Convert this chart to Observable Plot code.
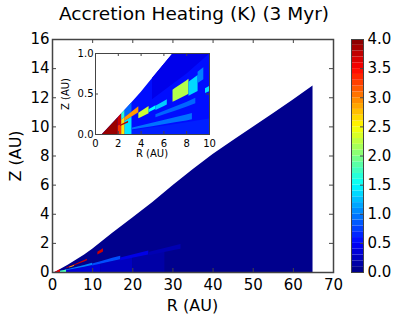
<!DOCTYPE html>
<html>
<head>
<meta charset="utf-8">
<script src="https://cdn.jsdelivr.net/npm/d3@7"></script>
<script src="https://cdn.jsdelivr.net/npm/@observablehq/plot@0.6"></script>
<style>
  html, body { margin: 0; padding: 0; background: white; }
  #wrap { position: relative; width: 399px; height: 323px; overflow: hidden; font-family: "DejaVu Sans", sans-serif; color: black; }
  #wrap > * { position: absolute; }
  .lbl { white-space: nowrap; text-align: center; }
</style>
</head>
<body>
<div id="wrap"></div>
<script>
// ---------------- data ----------------
const titleText = "Accretion Heating (K) (3 Myr)";
const xLabel = "R (AU)";
const yLabel = "Z (AU)";

// disk surface height Z(R) (AU)
const surfR = [0.6, 1, 2, 3, 4, 5, 6, 7, 8, 10, 12.5, 15, 20, 25, 30, 35, 40, 45, 50, 55, 60, 64.9];
const surfZ = [0, 0.06, 0.21, 0.36, 0.52, 0.69, 0.86, 1.03, 1.2, 1.6, 2.15, 2.7, 3.75, 4.8, 5.95, 7.05, 8.1, 9.05, 9.98, 10.9, 11.85, 12.8];

// main panel cells: [R from, R to, fraction of surface height from, to, heating value]
const mainCells = [
  [0.6, 64.9, 0, 1, 0.05],
  [0.6, 12, 0, 0.3, 0.35],
  [12, 20, 0, 0.28, 0.25],
  [20, 28, 0, 0.26, 0.15],
  [1.5, 10, 0.3, 0.4, 1.0],
  [10, 17, 0.28, 0.36, 0.8],
  [17, 24, 0.26, 0.32, 0.4],
  [24, 32, 0.25, 0.3, 0.2],
  [0.6, 2, 0, 1, 3.6],
  [2, 3.5, 0, 0.4, 1.8],
  [3.5, 8.7, 0.6, 0.68, 3.7],
  [4.3, 5.5, 0.55, 0.62, 2.7],
  [11.3, 12.7, 0.64, 0.74, 3.7]
];

// inset cells (zoom on R 0-10, Z 0-1)
const insetCells = [
  [0.6, 10, 0, 1, 0.55],
  [5, 10, 0.62, 1, 0.42],
  [3.2, 10, 0, 0.12, 0.62],
  [0.6, 2.0, 0, 1, 3.9],
  [2.0, 2.3, 0, 0.5, 3.3],
  [2.0, 2.3, 0.5, 1, 3.7],
  [2.3, 2.6, 0, 0.7, 2.6],
  [2.3, 2.6, 0.7, 1, 1.7],
  [2.6, 3.2, 0, 0.55, 1.4],
  [2.6, 3.2, 0.7, 1, 0.9],
  [2.6, 3.8, 0.55, 0.7, 2.9],
  [2.2, 2.9, 0.41, 0.47, 3.8],
  [3.8, 4.7, 0.4, 0.54, 2.3],
  [3.2, 8.5, 0.14, 0.2, 0.95],
  [4.7, 5.3, 0.42, 0.48, 1.5],
  [5.3, 6.3, 0.4, 0.47, 1.3],
  [5.3, 8.8, 0.28, 0.33, 0.9],
  [6.8, 8.2, 0.4, 0.55, 2.2],
  [8.2, 9.0, 0.38, 0.52, 1.35],
  [9.0, 9.5, 0.45, 0.55, 1.0],
  [9.65, 10, 0.33, 0.37, 1.4]
];

const xTicks = [0, 10, 20, 30, 40, 50, 60, 70];
const yTicks = [0, 2, 4, 6, 8, 10, 12, 14, 16];
const insetXTicks = [0, 2, 4, 6, 8, 10];
const insetYTicks = [0, 0.5, 1.0];
const cbarTicks = [0, 0.5, 1.0, 1.5, 2.0, 2.5, 3.0, 3.5, 4.0];
const cbarLevels = d3.range(0, 4, 0.1);

// jet colour map as a Plot colour scale
const colorOpts = {
  type: "linear",
  domain: [0, 0.5, 1.5, 2.5, 3.5, 4],
  range: ["#000080", "#0000ff", "#00ffff", "#ffff00", "#ff0000", "#800000"],
  interpolate: "rgb"
};

// ---------------- geometry ----------------
const zs = r => {
  if (r <= surfR[0]) return surfZ[0];
  for (let i = 1; i < surfR.length; i++) {
    if (r <= surfR[i]) {
      const t = (r - surfR[i - 1]) / (surfR[i] - surfR[i - 1]);
      return surfZ[i - 1] + t * (surfZ[i] - surfZ[i - 1]);
    }
  }
  return surfZ[surfZ.length - 1];
};
function cellPoints(cells) {
  const pts = [];
  cells.forEach(([r0, r1, f0, f1, v], i) => {
    const xs = [r0, ...surfR.filter(r => r > r0 && r < r1), r1];
    for (const x of xs) pts.push({id: i, x, y1: f0 * zs(x), y2: f1 * zs(x), v});
  });
  return pts;
}

const wrap = document.getElementById("wrap");
const axisColor = "#444";

// ---------------- main panel ----------------
const M = {l: 52, r: 66, t: 39, b: 51};
const mW = 399 - M.l - M.r, mH = 323 - M.t - M.b;
const main = Plot.plot({
  width: 399, height: 323,
  marginLeft: M.l, marginRight: M.r, marginTop: M.t, marginBottom: M.b,
  x: {domain: [0, 70]},
  y: {domain: [0, 16]},
  color: colorOpts,
  style: {fontFamily: "DejaVu Sans", fontSize: "15px", background: "transparent", color: "black"},
  marks: [
    Plot.areaY(cellPoints(mainCells), {x: "x", y1: "y1", y2: "y2", z: "id", fill: "v", clip: true}),
    Plot.frame({stroke: axisColor, strokeWidth: 1.5}),
    Plot.tickX(xTicks, {x: d => d, insetTop: mH - 4, stroke: axisColor}),
    Plot.tickX(xTicks, {x: d => d, insetBottom: mH - 4, stroke: axisColor}),
    Plot.tickY(yTicks, {y: d => d, insetRight: mW - 4, stroke: axisColor}),
    Plot.tickY(yTicks, {y: d => d, insetLeft: mW - 4, stroke: axisColor}),
    Plot.axisX({ticks: xTicks, tickSize: 0, tickPadding: 7, label: null, fontSize: 15}),
    Plot.axisY({ticks: yTicks, tickSize: 0, tickPadding: 3, label: null, fontSize: 15})
  ]
});
main.style.left = "0px"; main.style.top = "0px";
wrap.appendChild(main);

// ---------------- inset ----------------
const I = {left: 50, top: 43, w: 175, h: 120, l: 45, r: 16, t: 10, b: 29};
const iW = I.w - I.l - I.r, iH = I.h - I.t - I.b;
const inset = Plot.plot({
  width: I.w, height: I.h,
  marginLeft: I.l, marginRight: I.r, marginTop: I.t, marginBottom: I.b,
  x: {domain: [0, 10]},
  y: {domain: [0, 1]},
  color: colorOpts,
  style: {fontFamily: "DejaVu Sans", fontSize: "10px", background: "transparent", color: "black"},
  marks: [
    Plot.frame({fill: "white"}),
    Plot.areaY(cellPoints(insetCells), {x: "x", y1: "y1", y2: "y2", z: "id", fill: "v", clip: true}),
    Plot.frame({stroke: axisColor, strokeWidth: 1}),
    Plot.tickX(insetXTicks, {x: d => d, insetTop: iH - 3, stroke: axisColor}),
    Plot.tickX(insetXTicks, {x: d => d, insetBottom: iH - 3, stroke: axisColor}),
    Plot.tickY(insetYTicks, {y: d => d, insetRight: iW - 3, stroke: axisColor}),
    Plot.tickY(insetYTicks, {y: d => d, insetLeft: iW - 3, stroke: axisColor}),
    Plot.axisX({ticks: insetXTicks, tickSize: 0, tickPadding: 5, label: null, fontSize: 10}),
    Plot.axisY({ticks: insetYTicks, tickSize: 0, tickPadding: 2, tickFormat: d3.format(".1f"), label: null, fontSize: 10})
  ]
});
inset.style.left = I.left + "px"; inset.style.top = I.top + "px";
wrap.appendChild(inset);

// ---------------- colour bar ----------------
const C = {left: 340, w: 59, h: 323, l: 11, r: 36, t: 39, b: 51};
const cH = C.h - C.t - C.b, cW = C.w - C.l - C.r;
const cbar = Plot.plot({
  width: C.w, height: C.h,
  marginLeft: C.l, marginRight: C.r, marginTop: C.t, marginBottom: C.b,
  x: {domain: [0, 1], axis: null},
  y: {domain: [0, 4]},
  color: colorOpts,
  style: {fontFamily: "DejaVu Sans", fontSize: "15px", background: "transparent", color: "black"},
  marks: [
    Plot.rect(cbarLevels, {x1: 0, x2: 1, y1: d => d, y2: d => d + 0.1, fill: d => d + 0.05}),
    Plot.frame({stroke: axisColor, strokeWidth: 1}),
    Plot.tickY(cbarTicks, {y: d => d, insetLeft: cW - 3, stroke: axisColor}),
    Plot.axisY({anchor: "right", ticks: cbarTicks, tickSize: 0, tickPadding: 4, tickFormat: d3.format(".1f"), label: null, fontSize: 15})
  ]
});
cbar.style.left = C.left + "px"; cbar.style.top = "0px";
wrap.appendChild(cbar);

// ---------------- text ----------------
function addLabel(text, fs, cx, baseline, rotate) {
  const d = document.createElement("div");
  d.className = "lbl";
  d.textContent = text;
  d.style.fontSize = fs + "px";
  d.style.lineHeight = fs + "px";
  d.style.height = fs + "px";
  d.style.width = "300px";
  if (!rotate) {
    d.style.left = (cx - 150) + "px";
    d.style.top = (baseline - 0.846 * fs) + "px";
  } else {
    d.style.left = (cx - 150) + "px";
    d.style.top = (baseline - fs / 2) + "px";
    d.style.transform = "rotate(-90deg)";
  }
  wrap.appendChild(d);
  return d;
}
addLabel(titleText, 18.5, 194, 21, false);
addLabel(xLabel, 16, 192.5, 311.5, false);
addLabel(yLabel, 16, 16, 155.5, true);
addLabel(xLabel, 10, 152, 157, false);
addLabel(yLabel, 10, 66, 93.5, true);
</script>
</body>
</html>
